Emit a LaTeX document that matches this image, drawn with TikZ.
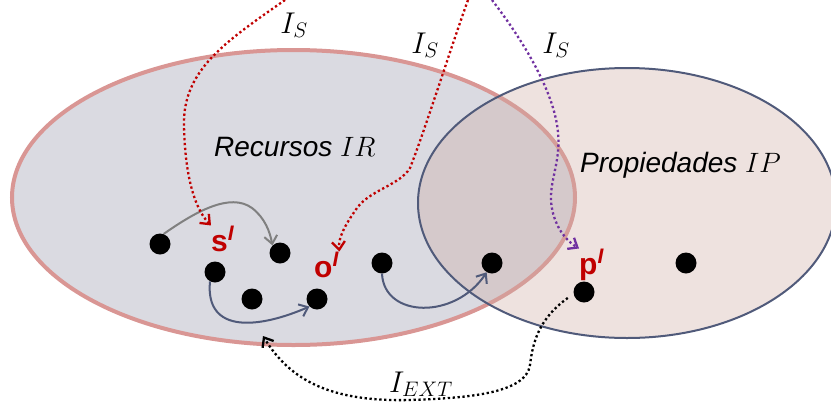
\documentclass[tikz,border=0pt]{standalone}
\usepackage{fix-cm}
\usepackage{fontspec}
\setmainfont{Liberation Sans}
\usetikzlibrary{arrows.meta}

\definecolor{recfill}{RGB}{218,218,225}
\definecolor{recline}{RGB}{217,150,148}
\definecolor{propfill}{RGB}{206,172,164}
\definecolor{propline}{RGB}{80,90,122}
\definecolor{interp}{RGB}{192,0,0}
\definecolor{propmap}{RGB}{112,48,160}

\begin{document}
\begin{tikzpicture}[x=1pt,y=-1pt,
                dot/.style={circle,fill=black,inner sep=0pt,minimum size=21pt},
                elem/.style={text=interp,font=\fontsize{30}{32}\selectfont\bfseries,inner sep=0pt,anchor=base west},
                setname/.style={font=\fontsize{28}{30}\selectfont\itshape,inner sep=0pt,anchor=base west},
                fname/.style={font=\fontsize{30}{32}\selectfont,inner sep=0pt},
                rel/.style={line width=2pt,-{Straight Barb[length=8pt,width=13pt]}},
                imap/.style={line width=2.3pt,dash pattern=on 2.3pt off 2.6pt,-{Straight Barb[length=8pt,width=13pt]}}]
                \useasboundingbox (0,0) rectangle (831,408);

                \fill[recfill] (293.5,197.5) ellipse [x radius=281.5, y radius=147.5];
                \draw[recline,line width=4pt] (293.5,197.5) ellipse [x radius=281.5, y radius=147.5];
                \fill[propfill,fill opacity=0.35] (627,203) ellipse [x radius=209, y radius=135];
                \draw[propline,line width=2pt] (627,203) ellipse [x radius=209, y radius=135];

                \node[setname] (recursos) at (214,156) {Recursos $IR$};
                \node[setname] (propiedades) at (580,172) {Propiedades $IP$};

                \node[dot] (d1) at (160,244) {};
                \node[dot] (d2) at (280,253) {};
                \node[dot] (d3) at (215,272) {};
                \node[dot] (d4) at (252,299) {};
                \node[dot] (d5) at (317,299) {};
                \node[dot] (d6) at (382,263) {};
                \node[dot] (d7) at (492,263) {};
                \node[dot] (d8) at (584,292) {};
                \node[dot] (d9) at (686,263) {};

                \node[elem] (sI) at (211,251) {s\textsuperscript{\textit{I}}};
                \node[elem] (oI) at (314,277) {o\textsuperscript{\textit{I}}};
                \node[elem] (pI) at (579,274) {p\textsuperscript{\textit{I}}};

                \coordinate (s0) at (285,0);
                \coordinate (o0) at (468,0);
                \coordinate (p0) at (492,0);
                \coordinate (ext) at (263,336);

                \draw[rel,gray] (d1.70) .. controls (195,212) and (230,192) .. (252,208) .. controls (265,218) and (270,232) .. (d2.north west);
                \draw[rel,propline] (d3.242) .. controls (205,335) and (260,328) .. (d5.225);
                \draw[rel,propline] (d6.south) .. controls (384,318) and (455,320) .. (d7.240);

                \draw[imap,interp] (s0) .. controls (225,42) and (183,70) .. (184,125) .. controls (185,180) and (196,210) .. (sI.north west);
                \draw[imap,interp] (o0) .. controls (450,50) and (425,130) .. (410,168) .. controls (400,185) and (370,190) .. (357,208) .. controls (345,225) and (338,238) .. (oI.north east);
                \draw[imap,propmap] (p0) .. controls (515,30) and (545,75) .. (555,115) .. controls (565,155) and (550,175) .. (551,200) .. controls (552,220) and (562,238) .. (pI.north west);
                \draw[imap,black,shorten <=7pt] (d8.190) .. controls (540,318) and (533,340) .. (530,365) .. controls (526,393) and (470,398) .. (410,400) .. controls (330,402) and (290,380) .. (ext);

                \node[fname] (is1) at (294,25) {$I_S$};
                \node[fname] (is2) at (425,45) {$I_S$};
                \node[fname] (is3) at (556,45) {$I_S$};
                \node[fname] (iext) at (421,384) {$I_{EXT}$};
            \end{tikzpicture}
\end{document}
